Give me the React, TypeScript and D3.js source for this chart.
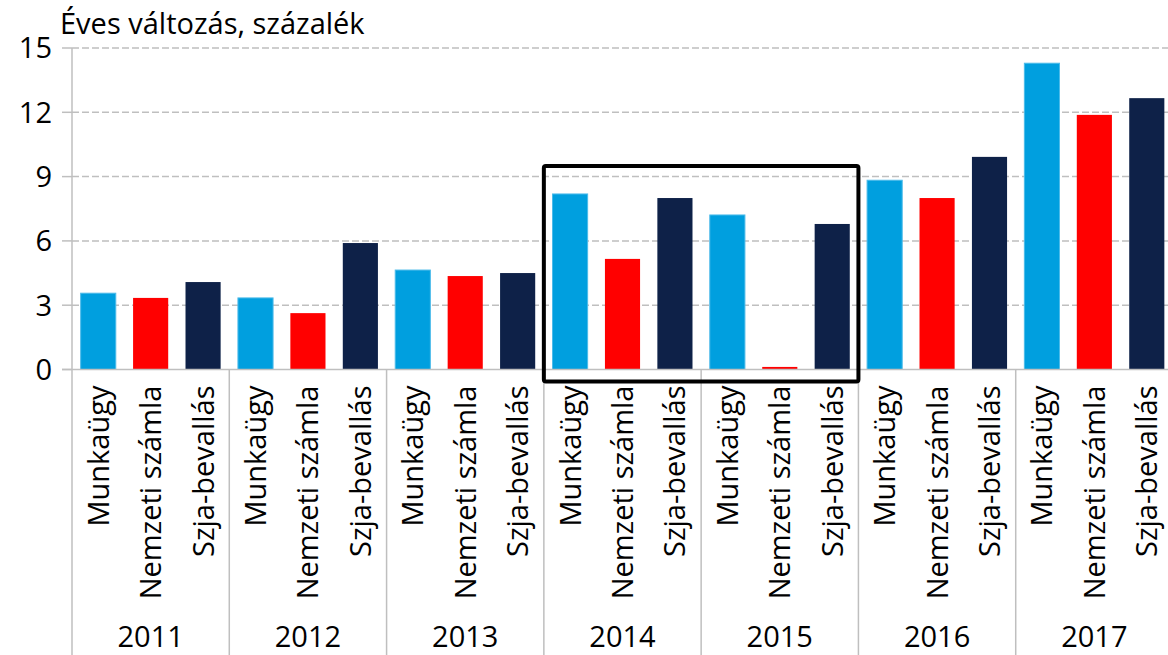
import React from "react";
import * as d3 from "d3";

const years = ["2011", "2012", "2013", "2014", "2015", "2016", "2017"];
const sources = ["Munkaügy", "Nemzeti számla", "Szja-bevallás"];
const munkaugy = [3.56, 3.34, 4.64, 8.19, 7.21, 8.83, 14.29];
const nemzeti = [3.34, 2.63, 4.36, 5.16, 0.12, 8.0, 11.88];
const szja = [4.08, 5.9, 4.5, 8.0, 6.79, 9.92, 12.66];
const yTicks = [0, 3, 6, 9, 12, 15];
const highlightYears = ["2014", "2015"];
const highlightTop = 9.5;
const title = "Éves változás, százalék";

const colors = ["#009FDF", "#FF0000", "#0E2148"];
const strokes = ["#4CBBEA", "none", "none"];

export default function App() {
  const W = 1168;
  const H = 655;
  const left = 72;
  const right = 1173;
  const y0 = 369.5;
  const yTop = 48;
  const font = "'Open Sans', 'Noto Sans', sans-serif";
  const fs = 29;

  const x = d3.scaleBand<string>().domain(years).range([left, right]).padding(0);
  const xs = d3
    .scaleBand<string>()
    .domain(sources)
    .range([0, x.bandwidth()])
    .paddingInner(0.33)
    .paddingOuter(0.165);
  const y = d3.scaleLinear().domain([0, 15]).range([y0, yTop]);
  const series = [munkaugy, nemzeti, szja];

  const hx0 = x(highlightYears[0])!;
  const hx1 = x(highlightYears[highlightYears.length - 1])! + x.bandwidth();
  const grid = "#BFBFBF";

  return (
    <svg
      width={W}
      height={H}
      style={{ position: "absolute", left: 0, top: 0, background: "#fff" }}
      fontFamily={font}
    >
      <rect width={W} height={H} fill="#fff" />
      {/* gridlines */}
      {yTicks.map((t) => (
        <g key={t}>
          {t !== 0 && (
            <line
              x1={left}
              x2={right}
              y1={y(t)}
              y2={y(t)}
              stroke={grid}
              strokeWidth={1.5}
              strokeDasharray="7,3"
            />
          )}
          <line x1={left - 10} x2={left} y1={y(t)} y2={y(t)} stroke={grid} strokeWidth={1.5} />
          <text
            x={left - 20}
            y={y(t)}
            dy="0.36em"
            textAnchor="end"
            fontSize={fs}
            fill="#000"
          >
            {t}
          </text>
        </g>
      ))}
      {/* bars */}
      {years.map((yr, i) =>
        sources.map((s, j) => {
          const v = series[j][i];
          return (
            <rect
              key={yr + s}
              x={x(yr)! + xs(s)!}
              y={y(v)}
              width={xs.bandwidth()}
              height={y(0) - y(v)}
              fill={colors[j]}
              stroke={strokes[j]}
              strokeWidth={1}
            />
          );
        })
      )}
      {/* baseline */}
      <line x1={left - 10} x2={right} y1={y(0)} y2={y(0)} stroke={grid} strokeWidth={1.5} />
      {/* y axis line */}
      <line x1={left} x2={left} y1={yTop} y2={H} stroke={grid} strokeWidth={1.5} />
      {/* group separators */}
      {years.map((yr) => (
        <line
          key={"sep" + yr}
          x1={x(yr)! + x.bandwidth()}
          x2={x(yr)! + x.bandwidth()}
          y1={y(0)}
          y2={H}
          stroke={grid}
          strokeWidth={1.5}
        />
      ))}
      {/* category labels */}
      {years.map((yr) =>
        sources.map((s) => {
          const cx = x(yr)! + xs(s)! + xs.bandwidth() / 2;
          return (
            <text
              key={"l" + yr + s}
              transform={`translate(${cx},${y(0) + 16}) rotate(-90)`}
              textAnchor="end"
              dy="0.36em"
              fontSize={fs}
              fill="#000"
            >
              {s}
            </text>
          );
        })
      )}
      {/* year labels */}
      {years.map((yr) => (
        <text
          key={"y" + yr}
          x={x(yr)! + x.bandwidth() / 2}
          y={647}
          textAnchor="middle"
          fontSize={fs}
          fill="#000"
        >
          {yr}
        </text>
      ))}
      {/* highlight box */}
      <rect
        x={hx0}
        y={y(highlightTop)}
        width={hx1 - hx0}
        height={y(0) + 12 - y(highlightTop)}
        fill="none"
        stroke="#000"
        strokeWidth={4}
        rx={2}
      />
      {/* title */}
      <text x={60} y={34} fontSize={fs} fill="#000">
        {title}
      </text>
    </svg>
  );
}
